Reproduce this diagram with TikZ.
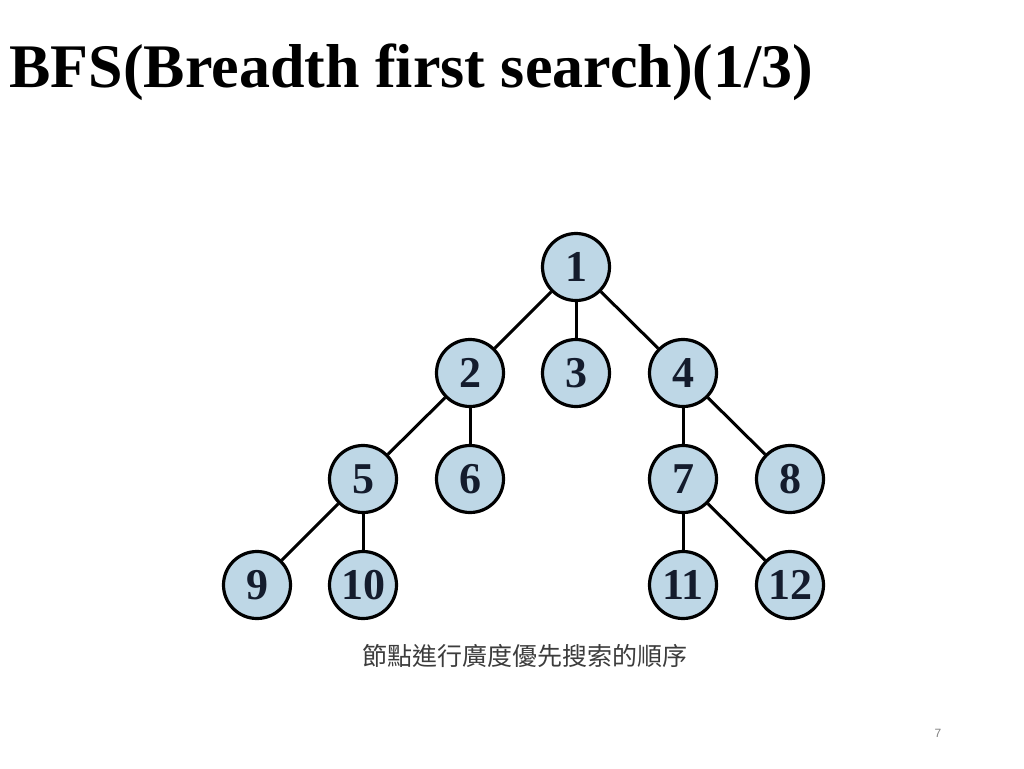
\documentclass[tikz,border=0pt]{standalone}
\usepackage{fontspec}
\setmainfont{Liberation Serif}
\newfontfamily\cjk{Noto Sans CJK TC}
\newfontfamily\pnum{Liberation Sans}
\begin{document}
\begin{tikzpicture}[x=1pt,y=-1pt,
  vtx/.style={circle,draw=black,line width=3.2pt,fill={rgb,255:red,190;green,215;blue,230},minimum size=67pt,inner sep=0pt,font=\bfseries\fontsize{44}{44}\selectfont,text={rgb,255:red,20;green,28;blue,45}},
  edge/.style={line width=3pt}]
\useasboundingbox (0,0) rectangle (1024,768);
\node[anchor=west,font=\bfseries\fontsize{62}{62}\selectfont] (title) at (6,72) {BFS(Breadth first search)(1/3)};
\node[vtx] (n1) at (576,267) {1};
\node[vtx] (n2) at (470,373) {2};
\node[vtx] (n3) at (576,373) {3};
\node[vtx] (n4) at (683,373) {4};
\node[vtx] (n5) at (363,479) {5};
\node[vtx] (n6) at (470,479) {6};
\node[vtx] (n7) at (683,479) {7};
\node[vtx] (n8) at (790,479) {8};
\node[vtx] (n9) at (257,585) {9};
\node[vtx] (n10) at (363,585) {10};
\node[vtx] (n11) at (683,585) {11};
\node[vtx] (n12) at (790,585) {12};
\foreach \a/\b in {n1/n2,n1/n3,n1/n4,n2/n5,n2/n6,n4/n7,n4/n8,n5/n9,n5/n10,n7/n11,n7/n12}
  \draw[edge] (\a) -- (\b);
\node[font=\cjk\fontsize{25}{25}\selectfont,text={rgb,255:red,60;green,60;blue,60}] (cap) at (525,656) {節點進行廣度優先搜索的順序};
\node[font=\pnum\fontsize{12}{12}\selectfont,text=gray] (pg) at (938,733) {7};
\end{tikzpicture}
\end{document}
